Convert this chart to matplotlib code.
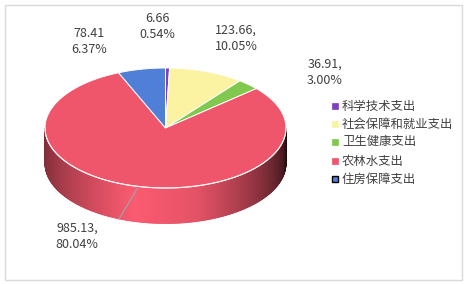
import numpy as np
import matplotlib
matplotlib.use("Agg")
import matplotlib.pyplot as plt
from matplotlib.patches import Polygon, Rectangle
from matplotlib import colors as mcolors

plt.rcParams['font.family'] = ['Noto Sans CJK SC', 'DejaVu Sans']

# ---- data ----
categories = ['科学技术支出', '社会保障和就业支出', '卫生健康支出', '农林水支出', '住房保障支出']
values = [6.66, 123.66, 36.91, 985.13, 78.41]
separators = ['', ',', ',', ',', '']
slice_colors = ['#7f3fbf', '#fbf3a2', '#80c94e', '#f0566b', '#4f7fd6']

# ---- layout ----
W, H = 466, 284
cx, cy = 165.5, 128.0
rx, ry = 120.5, 60.0
depth = 35.5

fig = plt.figure(figsize=(W / 100, H / 100), dpi=100)
ax = fig.add_axes([0, 0, 1, 1])
ax.set_xlim(0, W)
ax.set_ylim(H, 0)
ax.axis('off')

# frame
ax.add_patch(Rectangle((4.5, 4.5), 457, 275.5, fill=False, ec='#d9d9d9', lw=1.0))

total = sum(values)
fracs = [v / total for v in values]
bounds = np.concatenate([[0], np.cumsum(fracs)]) * 360.0


def rim(theta_deg, dy=0.0):
    t = np.radians(theta_deg)
    return cx + rx * np.sin(t), cy - ry * np.cos(t) + dy


def slice_of(theta):
    for i in range(len(values)):
        if bounds[i] <= theta % 360 < bounds[i + 1]:
            return i
    return len(values) - 1


# shading of side wall vs angle
sh_ang = [90, 105, 135, 165, 195, 225, 250, 270]
sh_fac = [0.08, 0.3, 0.62, 0.92, 1.02, 0.78, 0.6, 0.52]

# side wall (front half: 90..270 deg)
thetas = np.linspace(90, 270, 361)
for a0, a1 in zip(thetas[:-1], thetas[1:]):
    am = 0.5 * (a0 + a1)
    base = np.array(mcolors.to_rgb(slice_colors[slice_of(am)]))
    f = np.interp(am, sh_ang, sh_fac)
    col = np.clip(base * f * 1.03, 0, 1)
    x0, y0 = rim(a0)
    x1, y1 = rim(a1)
    poly = [(x0, y0), (x1, y1), (x1, y1 + depth), (x0, y0 + depth)]
    ax.add_patch(Polygon(poly, closed=True, fc=col, ec=col, lw=0.6))

# top face
for i in range(len(values)):
    th = np.linspace(bounds[i], bounds[i + 1], max(3, int((bounds[i + 1] - bounds[i]) * 2)))
    xs, ys = rim(th)
    pts = [(cx, cy)] + list(zip(xs, ys))
    ax.add_patch(Polygon(pts, closed=True, fc=slice_colors[i], ec='white', lw=0.7))

# white rim edge along front
th = np.linspace(90, 270, 300)
xs, ys = rim(th)
ax.plot(xs, ys, color='#fff4f4', lw=0.8)

# leader line for big slice
lx0, ly0 = rim(193.5, 2)
ax.plot([lx0, 119], [ly0, 219], color='#a0a0a0', lw=0.9)

# data labels
label_pos = [(157, 26.5), (236, 38.5), (325, 72), (77, 236), (89, 41.5)]
for i, v in enumerate(values):
    txt = f"{v:.2f}{separators[i]}\n{fracs[i] * 100:.2f}%"
    ax.text(label_pos[i][0], label_pos[i][1], txt, ha='center', va='center',
            fontsize=9, color='#404040', linespacing=1.3)

# legend
leg_y = [106, 124, 142, 161, 179]
for i, name in enumerate(categories):
    ec = '#000000' if i == 4 else slice_colors[i]
    lw = 1.0 if i == 4 else 0.5
    ax.add_patch(Rectangle((331.5, leg_y[i] - 3), 6, 6, fc=slice_colors[i], ec=ec, lw=lw))
    ax.text(342, leg_y[i], name, ha='left', va='center', fontsize=8.9, color='#404040')

fig.savefig('out.png', dpi=100)
